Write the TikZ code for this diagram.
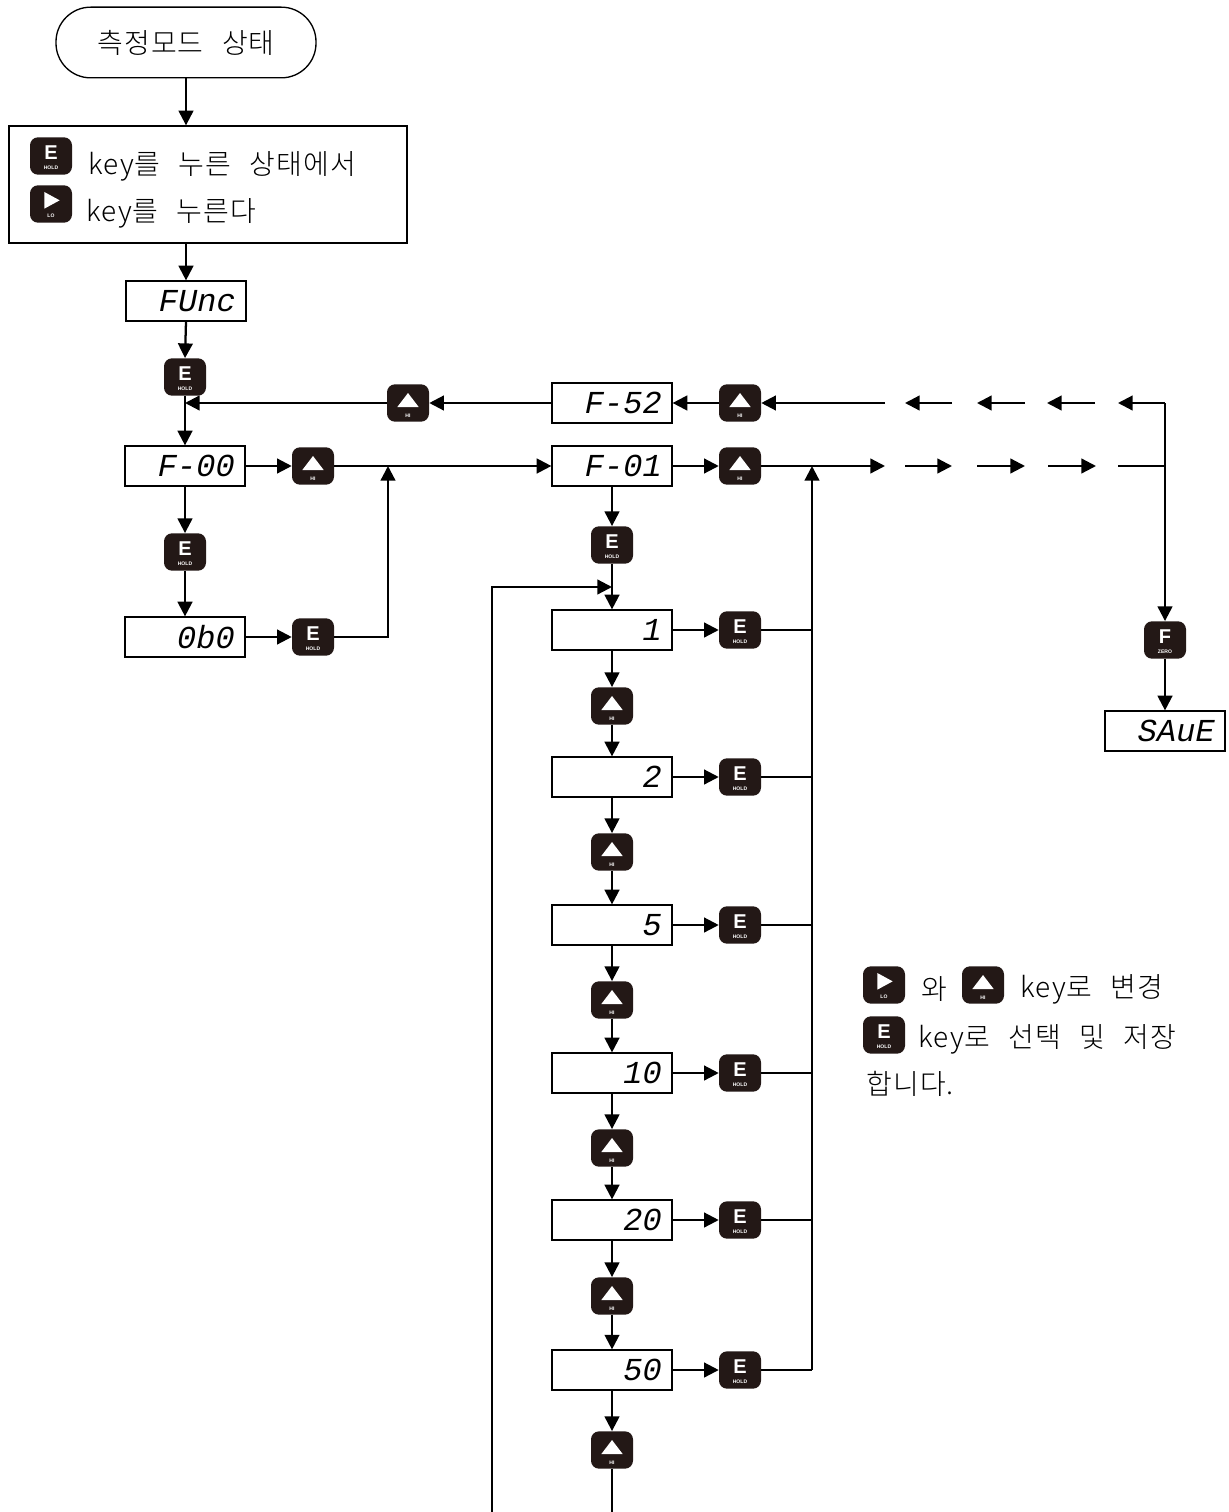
\documentclass[tikz,border=0pt]{standalone}
\usepackage{fontspec}
\usetikzlibrary{arrows.meta}
\newfontfamily\krfont[WordSpace=2.5,LetterSpace=4]{Noto Sans CJK KR Light}
\newfontfamily\segfont[FakeSlant=0.2]{Liberation Mono}
\newfontfamily\keyfont{Liberation Sans}
\definecolor{keyblack}{RGB}{35,24,22}
\newcommand\kstrut{\rule{0pt}{13pt}}
\newcommand\symE{\kstrut{\fontsize{15}{8}\selectfont E}\\HOLD}
\newcommand\symF{\kstrut{\fontsize{15}{8}\selectfont F}\\ZERO}
\newcommand\symHI{\kstrut\\HI}
\newcommand\symLO{\kstrut\\LO}
\tikzset{
 key/.style={fill=keyblack, rounded corners=6pt, minimum width=31.5pt, minimum height=28pt, inner sep=0pt, text=white, align=center, font=\keyfont\bfseries\fontsize{3.8}{8}\selectfont},
 hikey/.style={key, path picture={\fill[white,sharp corners] ([shift={(-8pt,-3pt)}]path picture bounding box.center) -- ([shift={(8pt,-3pt)}]path picture bounding box.center) -- ([shift={(0pt,7.5pt)}]path picture bounding box.center) -- cycle;}},
 lokey/.style={key, path picture={\fill[white,sharp corners] ([shift={(-5pt,-3.5pt)}]path picture bounding box.center) -- ([shift={(-5pt,9pt)}]path picture bounding box.center) -- ([shift={(6.5pt,2.75pt)}]path picture bounding box.center) -- cycle;}},
 disp/.style={draw, line width=0.9pt, minimum height=30pt, text width=72pt, inner xsep=9pt, inner ysep=0pt, align=right, font=\segfont\fontsize{24}{24}\selectfont},
 kr/.style={font=\krfont\fontsize{21}{25}\selectfont, inner sep=0pt},
 arr/.style={line width=1.7pt, -{Triangle[length=11pt,width=11pt]}},
 ln/.style={line width=1.6pt},
}
\begin{document}
\begin{tikzpicture}[x=0.75pt,y=-0.75pt]
\fill[white] (0,0) rectangle (1228,1512);
\useasboundingbox (0,0) rectangle (1228,1512);
% left column
\node[draw, line width=1pt, rounded corners=26pt, minimum width=195pt, minimum height=53pt, kr] (start) at (186,42.5) {측정모드 상태};
\node[draw, line width=1pt, minimum width=298.5pt, minimum height=87.75pt] (box1) at (208,184.5) {};
\node[key] (ik1) at (51,156) {\symE};
\node[kr, anchor=west] (tx1) at (88,166) {key를 누른 상태에서};
\node[lokey] (ik2) at (51,204) {\symLO};
\node[kr, anchor=west] (tx2) at (86,213) {key를 누른다};
\node[disp] (func) at (186,301) {FUnc};
\node[key] (e1) at (185,377) {\symE};
\node[hikey] (hi2) at (408,403) {\symHI};
\node[disp] (f52) at (612,403) {F-52};
\node[hikey] (hi3) at (740,403) {\symHI};
\node[disp] (f00) at (185,466) {F-00};
\node[hikey] (hi1) at (313,466) {\symHI};
\node[disp] (f01) at (612,466) {F-01};
\node[hikey] (hi4) at (740,466) {\symHI};
\node[key] (e2) at (185,552) {\symE};
\node[disp] (obo) at (185,637) {0b0};
\node[key] (e3) at (313,637) {\symE};
\node[key] (e4) at (612,545) {\symE};
% value column
\foreach \n/\y/\h/\t in {a/630/706/1, b/777/852/2, c/925/1000/5, d/1073/1148/10, e/1220/1296/20, f/1370/1450/50} {
  \node[disp] (d\n) at (612,\y) {\t};
  \node[key] (k\n) at (740,\y) {\symE};
  \node[hikey] (h\n) at (612,\h) {\symHI};
}
% F key and save
\node[key] (fz) at (1165,640) {\symF};
\node[disp] (save) at (1165,731) {SAuE};
% note text
\node[lokey] (tk1) at (884,985) {\symLO};
\node[kr, anchor=west] (tw) at (921,989) {와};
\node[hikey] (tk2) at (983,985) {\symHI};
\node[kr, anchor=west] (tt1) at (1020,989) {key로 변경};
\node[key] (tk3) at (884,1035) {\symE};
\node[kr, anchor=west] (tt2) at (918,1039) {key로 선택 및 저장};
\node[kr, anchor=west] (tt3) at (866,1084) {합니다.};
% coordinates
\coordinate (mj) at (388,466);
\coordinate (bustop) at (812,466);
\coordinate (busbot) at (812,1370);
\coordinate (cr1) at (1165,403);
\coordinate (cr2) at (1165,466);
\coordinate (tst) at (885,403);
\coordinate (bst) at (885,466);
\coordinate (te4) at (1118,403);
\coordinate (bend) at (1118,466);
\coordinate (lb) at (492,1512);
\coordinate (lt) at (612,587);
\coordinate (bb) at (612,1512);
% connectors left
\draw[arr] (start.south) -- (start.south |- box1.north);
\draw[arr] (func.north |- box1.south) -- (func.north);
\draw[arr] (func.south) -- (e1.north);
\draw[arr] (e1.south) -- (f00.north);
\draw[arr] (hi2.west) -- (hi2.west -| e1.south);
\draw[arr] (f52.west) -- (hi2.east);
\draw[arr] (hi3.west) -- (f52.east);
\draw[arr] (tst) -- (hi3.east);
\draw[arr] (f00.east) -- (hi1.west);
\draw[arr] (hi1.east) -- (f01.west);
\draw[arr] (f01.east) -- (hi4.west);
\draw[arr] (hi4.east) -- (bst);
\draw[arr] (f00.south) -- (e2.north);
\draw[arr] (e2.south) -- (obo.north);
\draw[arr] (obo.east) -- (e3.west);
\draw[arr] (e3.east) -| (mj);
\draw[arr] (f01.south) -- (e4.north);
\draw[arr] (e4.south) -- (da.north);
\draw[arr] (lb) |- (lt);
% dashed arrow trains
\foreach \a/\b [count=\i] in {952/905, 1025/977, 1095/1047} {
  \coordinate (ts\i) at (\a,403); \coordinate (tn\i) at (\b,403);
  \draw[arr] (ts\i) -- (tn\i);
}
\foreach \a/\b [count=\i] in {905/952, 977/1025, 1048/1096} {
  \coordinate (bs\i) at (\a,466); \coordinate (bn\i) at (\b,466);
  \draw[arr] (bs\i) -- (bn\i);
}
\draw[arr] (cr1) -- (te4);
\draw[line width=1pt] (bend) -- (cr2);
\draw[arr] (cr1) -- (fz.north);
\draw[arr] (fz.south) -- (save.north);
% value column connectors
\foreach \n in {a,b,c,d,e,f} {
  \draw[arr] (d\n.east) -- (k\n.west);
  \draw[ln] (k\n.east) -- (k\n.east -| bustop);
  \draw[arr] (d\n.south) -- (h\n.north);
}
\foreach \p/\q in {a/b, b/c, c/d, d/e, e/f} {
  \draw[arr] (h\p.south) -- (d\q.north);
}
\draw[ln] (hf.south) -- (bb);
\draw[arr] (busbot) -- (bustop);
\end{tikzpicture}
\end{document}
